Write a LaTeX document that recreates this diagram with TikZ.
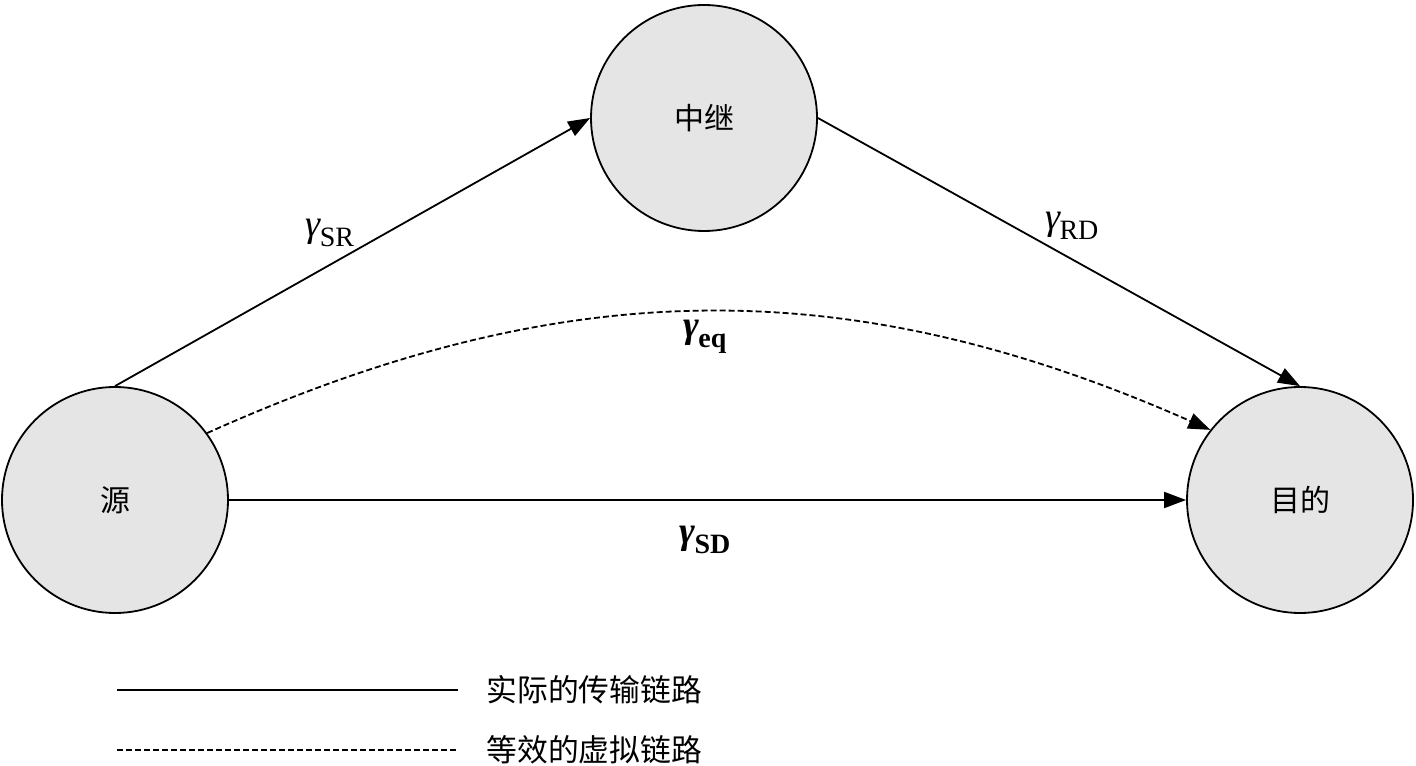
\documentclass[tikz,border=0pt]{standalone}
\usepackage{fontspec}
\setmainfont{Liberation Serif}
\newfontfamily\cjk{Noto Sans CJK SC}
\usetikzlibrary{arrows.meta,positioning}

\newcommand{\glab}[1]{{\fontsize{19}{19}\selectfont\itshape γ}\kern-0.5pt\raisebox{-0.7ex}{\fontsize{14}{14}\selectfont #1}}
\newcommand{\gbold}[1]{{\fontsize{19}{19}\selectfont\bfseries\itshape γ}\kern-0.5pt\raisebox{-0.7ex}{\fontsize{14}{14}\selectfont\bfseries #1}}

\begin{document}
\begin{tikzpicture}[x=0.5pt,y=0.5pt,
    station/.style={circle, draw, line width=0.9pt, fill=black!10, minimum size=113pt, inner sep=0pt, font=\cjk\fontsize{15}{15}\selectfont},
    link/.style={line width=0.9pt, -{Triangle[length=11pt,width=8pt]}},
    virt/.style={link, dash pattern=on 3pt off 1.5pt},
    glabel/.style={font=\fontsize{15}{15}\selectfont}]
    \useasboundingbox (0,0) rectangle (1416,765);

    \node [station] (src) at (115,265) {源};
    \node [station] (rly) at (704,647) {中继};
    \node [station] (dst) at (1300,265) {目的};

\draw [link] (src.north) -- (rly.west);
\draw [link] (rly.east) -- (dst.north);
\draw [link] (src.east) -- (dst.west);
\draw [virt] (src.36) to [bend left=24] (dst.142);

\node [glabel] (lsr) at (330,532) {\glab{SR}};
\node [glabel] (lrd) at (1072,539) {\glab{RD}};
\node [glabel] (leq) at (705,428) {\gbold{eq}};
\node [glabel] (lsd) at (705,225) {\gbold{SD}};

% legend
\coordinate (a1) at (117,75);
\coordinate (a2) at (458,75);
\coordinate (b1) at (117,15);
\coordinate (b2) at (458,15);
\draw [line width=0.9pt] (a1) -- (a2);
\draw [line width=0.9pt, dash pattern=on 3pt off 1.5pt] (b1) -- (b2);
\node [right=14pt of a2, inner sep=0pt, font=\cjk\fontsize{15.4}{15.4}\selectfont] (ta) {实际的传输链路};
\node [right=14pt of b2, inner sep=0pt, font=\cjk\fontsize{15.4}{15.4}\selectfont] (tb) {等效的虚拟链路};
\end{tikzpicture}
\end{document}
